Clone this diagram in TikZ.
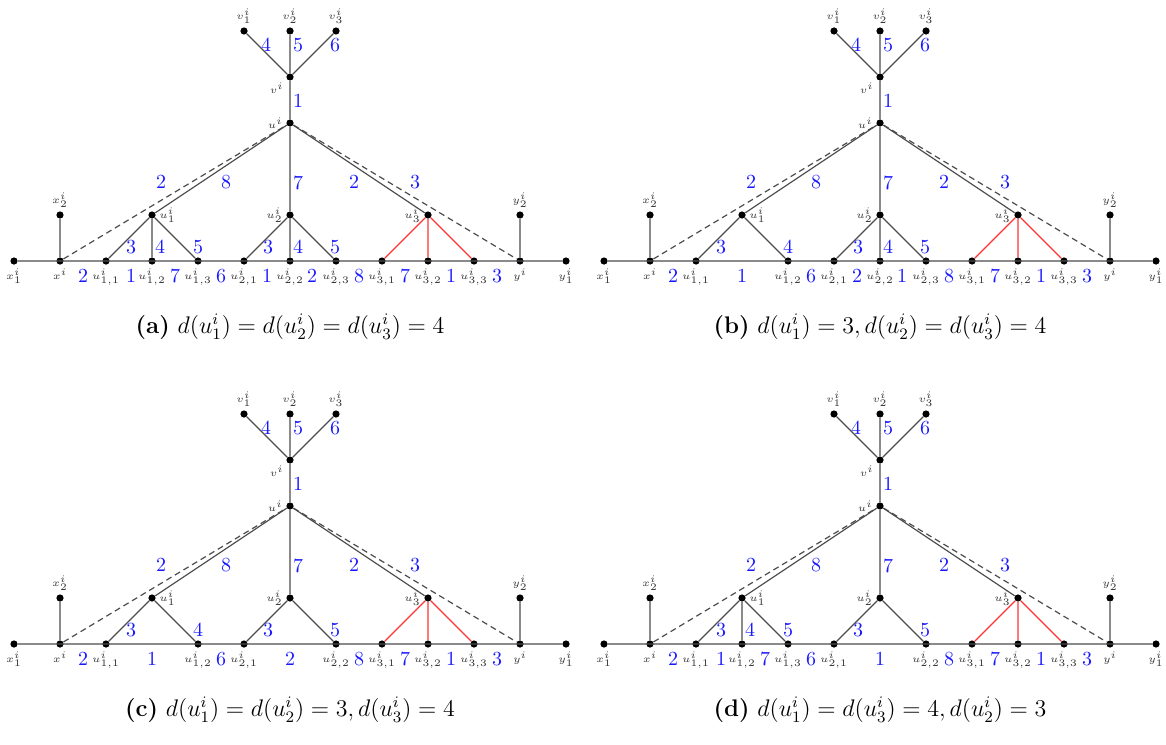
\documentclass[tikz,border=0pt]{standalone}
\usepackage{amsmath}
\begin{document}
\tikzset{
 dot/.style={circle,fill=black,inner sep=0pt,minimum size=3.6pt},
 ed/.style={draw=black!70,line width=0.6pt},
 rededge/.style={draw=red!80,line width=0.6pt},
 dsh/.style={draw=black!70,line width=0.6pt,dash pattern=on 3pt off 2pt},
 num/.style={text=blue!90!white,font=\normalsize,inner sep=0pt},
 lab/.style={font=\tiny,text=black!80,inner sep=1.5pt},
 capt/.style={font=\large,inner sep=0pt}
}
\newcommand\mypanel[8]{%
\begin{scope}[shift={(#2,#3)}]
 \node[dot,label={[lab]below:$x_1^i$}] (#1x1) at (14,261) {};
 \node[dot,label={[lab]below:$x^i$}] (#1x) at (60,261) {};
 \node[dot,label={[lab]above:$x_2^i$}] (#1x2) at (60,215) {};
 \node[dot,label={[lab]below:$y^i$}] (#1y) at (520,261) {};
 \node[dot,label={[lab]below:$y_1^i$}] (#1y1) at (566,261) {};
 \node[dot,label={[lab]above:$y_2^i$}] (#1y2) at (520,215) {};
 \node[dot,label={[lab]left:$u^i$}] (#1u) at (290,123) {};
 \node[dot,label={[lab]below left:$v^i$}] (#1v) at (290,77) {};
 \node[dot,label={[lab]above:$v_1^i$}] (#1v1) at (244,31) {};
 \node[dot,label={[lab]above:$v_2^i$}] (#1v2) at (290,31) {};
 \node[dot,label={[lab]above:$v_3^i$}] (#1v3) at (336,31) {};
 \node[dot,label={[lab]right:$u_1^i$}] (#1u1) at (152,215) {};
 \node[dot,label={[lab]left:$u_2^i$}] (#1u2) at (290,215) {};
 \node[dot,label={[lab]left:$u_3^i$}] (#1u3) at (428,215) {};
 \node[dot,label={[lab]below:$u_{1,1}^i$}] (#1a1) at (106,261) {};
 \node[dot,label={[lab]below:$u_{2,1}^i$}] (#1b1) at (244,261) {};
 \node[dot,label={[lab]below:$u_{3,1}^i$}] (#1c1) at (382,261) {};
 \node[dot,label={[lab]below:$u_{3,2}^i$}] (#1c2) at (428,261) {};
 \node[dot,label={[lab]below:$u_{3,3}^i$}] (#1c3) at (474,261) {};
 \ifnum#4=4
  \node[dot,label={[lab]below:$u_{1,2}^i$}] (#1a2) at (152,261) {};
  \node[dot,label={[lab]below:$u_{1,3}^i$}] (#1a3) at (198,261) {};
  \path[ed] (#1u1)--(#1a2) (#1u1)--(#1a3);
  \node[num] at (131,247) {3}; \node[num] at (160,247) {4}; \node[num] at (198,247) {5};
  \node[num] at (131,276) {1}; \node[num] at (175,276) {7};
 \else
  \node[dot,label={[lab]below:$u_{1,2}^i$}] (#1a3) at (198,261) {};
  \path[ed] (#1u1)--(#1a3);
  \node[num] at (131,247) {3}; \node[num] at (198,247) {4};
  \node[num] at (152,276) {1};
 \fi
 \ifnum#5=4
  \node[dot,label={[lab]below:$u_{2,2}^i$}] (#1b2) at (290,261) {};
  \node[dot,label={[lab]below:$u_{2,3}^i$}] (#1b3) at (336,261) {};
  \path[ed] (#1u2)--(#1b2) (#1u2)--(#1b3);
  \node[num] at (268,247) {3}; \node[num] at (298,247) {4}; \node[num] at (335,247) {5};
  \node[num] at (267,276) {#6}; \node[num] at (312,276) {#7};
 \else
  \node[dot,label={[lab]below:$u_{2,2}^i$}] (#1b3) at (336,261) {};
  \path[ed] (#1u2)--(#1b3);
  \node[num] at (268,247) {3}; \node[num] at (335,247) {5};
  \node[num] at (290,276) {#6};
 \fi
 \path[ed] (#1x1)--(#1y1) (#1x)--(#1x2) (#1y)--(#1y2) (#1u)--(#1v)
   (#1v)--(#1v1) (#1v)--(#1v2) (#1v)--(#1v3)
   (#1u)--(#1u1) (#1u)--(#1u2) (#1u)--(#1u3) (#1u1)--(#1a1) (#1u2)--(#1b1);
 \path[dsh] (#1x)--(#1u) (#1u)--(#1y);
 \path[rededge] (#1u3)--(#1c1) (#1u3)--(#1c2) (#1u3)--(#1c3);
 \node[num] at (266,45) {4}; \node[num] at (298,45) {5}; \node[num] at (335,45) {6};
 \node[num] at (298,101) {1}; \node[num] at (298,183) {7};
 \node[num] at (161,182) {2}; \node[num] at (226,182) {8};
 \node[num] at (354,182) {2}; \node[num] at (415,182) {3};
 \node[num] at (83,276) {2}; \node[num] at (221,276) {6}; \node[num] at (359,276) {8};
 \node[num] at (405,276) {7}; \node[num] at (451,276) {1}; \node[num] at (497,276) {3};
 \node[capt] (#1cap) at (290,327) {#8};
\end{scope}}
\begin{tikzpicture}[x=0.5pt,y=-0.5pt]
\useasboundingbox (0,0) rectangle (1166,744);
\mypanel{a}{0}{0}{4}{4}{1}{2}{\textbf{(a)} $d(u_1^i)=d(u_2^i)=d(u_3^i)=4$}
\mypanel{b}{590}{0}{3}{4}{2}{1}{\textbf{(b)} $d(u_1^i)=3, d(u_2^i)=d(u_3^i)=4$}
\mypanel{c}{0}{383}{3}{3}{2}{}{\textbf{(c)} $d(u_1^i)=d(u_2^i)=3, d(u_3^i)=4$}
\mypanel{d}{590}{383}{4}{3}{1}{}{\textbf{(d)} $d(u_1^i)=d(u_3^i)=4, d(u_2^i)=3$}
\end{tikzpicture}
\end{document}
